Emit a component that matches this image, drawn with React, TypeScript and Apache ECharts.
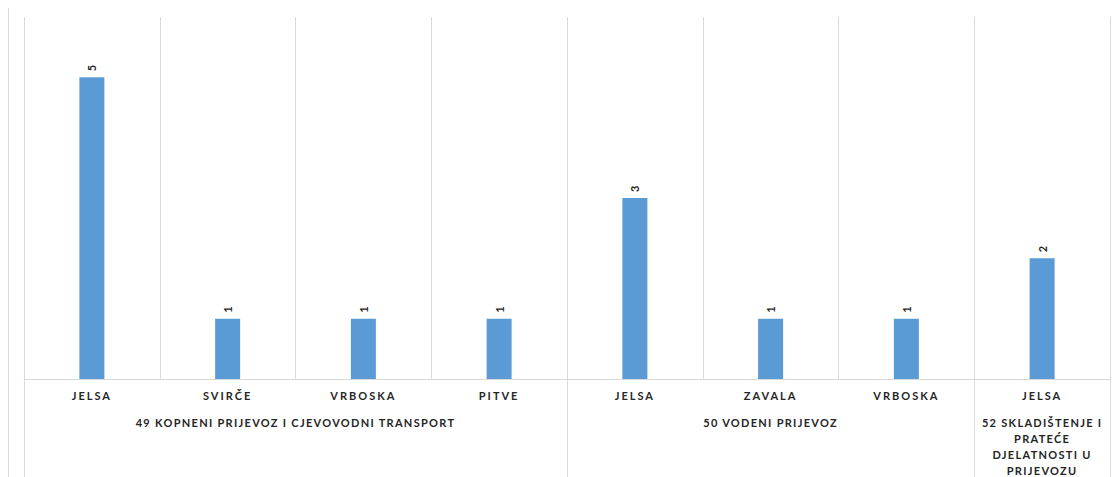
import React, { useEffect, useRef } from "react";
import * as echarts from "echarts";

const categories = ["JELSA", "SVIRČE", "VRBOSKA", "PITVE", "JELSA", "ZAVALA", "VRBOSKA", "JELSA"];
const values = [5, 1, 1, 1, 3, 1, 1, 2];
const groupNames = [
  "49 KOPNENI PRIJEVOZ I CJEVOVODNI TRANSPORT",
  "50 VODENI PRIJEVOZ",
  "52 SKLADIŠTENJE I PRATEĆE DJELATNOSTI U PRIJEVOZU",
];
const groupSizes = [4, 3, 1];

function wrap(text: string, maxChars: number): string {
  const words = text.split(" ");
  const lines: string[] = [];
  let cur = "";
  words.forEach((w) => {
    const next = cur ? cur + " " + w : w;
    if (next.length > maxChars && cur) {
      lines.push(cur);
      cur = w;
    } else cur = next;
  });
  if (cur) lines.push(cur);
  return lines.join("\n");
}

export default function App() {
  const ref = useRef<HTMLDivElement>(null);
  useEffect(() => {
    if (!ref.current) return;
    const chart = echarts.init(ref.current, null, { renderer: "svg" });
    const starts: number[] = [];
    const centers: number[] = [];
    let acc = 0;
    groupSizes.forEach((s) => {
      starts.push(acc);
      centers.push(acc + s / 2);
      acc += s;
    });
    const grid = "#d9d9d9";
    const font = "Lato";
    chart.setOption({
      animation: false,
      grid: { left: 24, right: 4, top: 17, bottom: 98, containLabel: false, outerBoundsMode: "none" },
      graphic: [
        { type: "line", shape: { x1: 8.5, y1: 8, x2: 8.5, y2: 477 }, style: { stroke: grid, lineWidth: 1 } },
      ],
      xAxis: [
        {
          type: "category",
          data: categories,
          boundaryGap: true,
          axisLine: { show: true, lineStyle: { color: grid } },
          axisTick: {
            show: true,
            length: 98,
            lineStyle: { color: grid },
            interval: (index: number) => starts.indexOf(index) >= 0,
          },
          splitLine: { show: true, interval: 0, lineStyle: { color: grid } },
          axisLabel: {
            interval: 0,
            margin: 11,
            fontFamily: font,
            fontWeight: "bold",
            fontSize: 11,
            color: "#262626",
          },
        },
        {
          type: "value",
          min: 0,
          max: categories.length,
          interval: 0.5,
          position: "bottom",
          axisLine: { show: false },
          axisTick: { show: false },
          splitLine: { show: false },
          axisLabel: {
            margin: 35,
            fontFamily: font,
            fontWeight: "bold",
            fontSize: 11,
            color: "#252525",
            lineHeight: 16,
            verticalAlign: "top",
            showMinLabel: true,
            showMaxLabel: true,
            formatter: (v: number) => {
              const i = centers.indexOf(v);
              return i >= 0 ? wrap(groupNames[i], groupSizes[i] * 18) : "";
            },
          },
        },
      ],
      yAxis: {
        type: "value",
        min: 0,
        max: 6,
        show: false,
        splitLine: { show: false },
      },
      series: [
        {
          type: "bar",
          data: values,
          xAxisIndex: 0,
          barWidth: 25,
          itemStyle: { color: "#5B9BD5" },
          label: {
            show: true,
            position: "top",
            rotate: 90,
            align: "left",
            verticalAlign: "middle",
            distance: 6,
            fontFamily: font,
            fontWeight: "bold",
            fontSize: 11,
            color: "#262626",
          },
        },
      ],
    });
    return () => chart.dispose();
  }, []);
  return (
    <>
      <style>{`.chart-box svg text { letter-spacing: 2px; } .chart-box svg text[fill="#252525"], .chart-box svg text[style*="#252525"], .chart-box svg text[fill="rgb(37,37,37)"] { letter-spacing: 1.3px; }`}</style>
      <div
        ref={ref}
        className="chart-box"
        style={{ position: "absolute", left: 0, top: 0, width: 1114, height: 477, background: "#fff" }}
      />
    </>
  );
}
